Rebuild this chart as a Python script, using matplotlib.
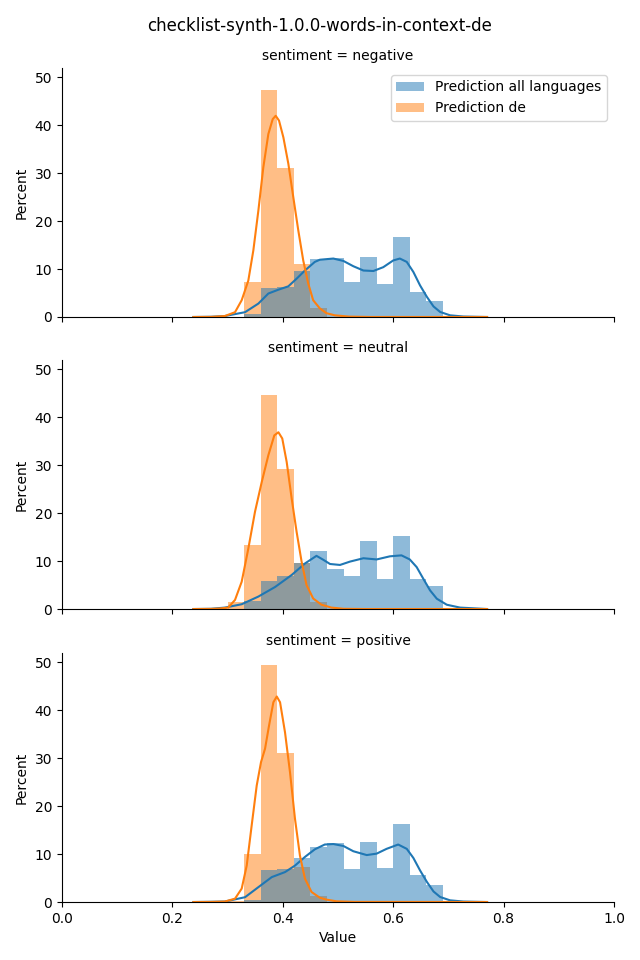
import numpy as np
import matplotlib.pyplot as plt

# histogram bins (shared by both series)
bin_edges = [0.30, 0.33, 0.36, 0.39, 0.42, 0.45, 0.48, 0.51, 0.54, 0.57, 0.60, 0.63, 0.66, 0.69]

panels = ["negative", "neutral", "positive"]

# percent per bin
all_neg = [0.0, 0.7, 6.0, 6.2, 9.7, 12.2, 12.4, 7.3, 12.6, 6.8, 16.7, 5.2, 3.3]
de_neg = [0.0, 7.3, 47.4, 31.2, 11.0, 1.8, 0.0, 0.0, 0.0, 0.0, 0.0, 0.0, 0.0]
all_neu = [0.0, 1.7, 5.8, 6.9, 9.7, 12.1, 8.3, 6.9, 14.2, 6.3, 15.2, 6.3, 4.8]
de_neu = [1.5, 13.3, 44.6, 29.2, 9.7, 1.5, 0.0, 0.0, 0.0, 0.0, 0.0, 0.0, 0.0]
all_pos = [0.0, 0.5, 6.6, 6.8, 9.2, 11.4, 12.4, 6.8, 12.6, 7.1, 16.2, 5.6, 3.5]
de_pos = [0.3, 10.1, 49.5, 31.2, 7.3, 1.2, 0.0, 0.0, 0.0, 0.0, 0.0, 0.0, 0.0]

# kde curves (x, y in percent units)
kde_all_neg_x = [0.238, 0.27, 0.295, 0.3315, 0.3557, 0.3738, 0.392, 0.410, 0.425, 0.440, 0.458, 0.467, 0.4915, 0.5097,
                 0.5277, 0.546, 0.564, 0.582, 0.600, 0.612, 0.6245, 0.6365, 0.6486, 0.661, 0.673, 0.685, 0.703, 0.727, 0.77]
kde_all_neg_y = [0.0, 0.05, 0.2, 1.0, 2.8, 4.9, 5.7, 6.4, 8.0, 9.7, 11.5, 11.95, 12.2, 11.7,
                 10.6, 9.7, 9.6, 10.4, 11.8, 12.2, 11.5, 9.4, 6.6, 4.2, 2.2, 1.05, 0.35, 0.1, 0.0]
kde_de_neg_x = [0.238, 0.27, 0.295, 0.3134, 0.3255, 0.3375, 0.3466, 0.3557, 0.3647, 0.3738, 0.3817, 0.3871, 0.3931,
                0.401, 0.410, 0.419, 0.428, 0.437, 0.446, 0.455, 0.467, 0.479, 0.494, 0.52, 0.56, 0.77]
kde_de_neg_y = [0.0, 0.02, 0.2, 1.0, 3.5, 7.6, 13.9, 22.2, 31.25, 38.2, 41.3, 42.0, 41.0,
                37.5, 32.0, 25.0, 18.1, 11.8, 7.0, 3.5, 1.8, 0.8, 0.35, 0.08, 0.0, 0.0]

kde_all_neu_x = [0.238, 0.27, 0.295, 0.3255, 0.3557, 0.386, 0.416, 0.440, 0.461, 0.473, 0.4855, 0.5036, 0.5217, 0.546,
                 0.570, 0.594, 0.615, 0.630, 0.6425, 0.6546, 0.6667, 0.679, 0.697, 0.721, 0.77]
kde_all_neu_y = [0.0, 0.05, 0.3, 1.0, 2.6, 4.6, 7.1, 9.5, 11.1, 10.3, 9.4, 9.2, 9.9, 10.6,
                 10.35, 11.0, 11.2, 10.35, 8.75, 6.3, 3.9, 2.15, 0.9, 0.3, 0.0]
kde_de_neu_x = [0.238, 0.27, 0.285, 0.301, 0.3134, 0.3255, 0.3375, 0.3496, 0.3618, 0.3738, 0.3846, 0.392, 0.399,
                0.407, 0.416, 0.425, 0.434, 0.443, 0.455, 0.470, 0.488, 0.51, 0.55, 0.77]
kde_de_neu_y = [0.0, 0.03, 0.1, 0.3, 1.9, 5.7, 12.6, 20.3, 26.5, 32.1, 36.25, 36.9, 35.6,
                30.7, 23.1, 16.1, 9.9, 5.0, 2.2, 0.9, 0.3, 0.05, 0.0, 0.0]

kde_all_pos_x = [0.238, 0.27, 0.295, 0.3315, 0.3557, 0.380, 0.404, 0.422, 0.440, 0.458, 0.476, 0.4915, 0.5097, 0.5277,
                 0.552, 0.570, 0.588, 0.609, 0.6245, 0.6365, 0.6486, 0.661, 0.673, 0.685, 0.703, 0.727, 0.77]
kde_all_pos_y = [0.0, 0.05, 0.1, 1.0, 3.1, 5.2, 6.25, 7.6, 9.4, 11.0, 12.0, 12.1, 11.7, 10.6,
                 9.8, 10.1, 11.1, 12.0, 11.1, 9.2, 6.6, 4.2, 2.2, 1.05, 0.35, 0.1, 0.0]
kde_de_pos_x = [0.238, 0.27, 0.295, 0.3134, 0.3255, 0.3346, 0.3436, 0.3527, 0.3605, 0.3678, 0.375, 0.3829, 0.389,
                0.395, 0.404, 0.413, 0.422, 0.431, 0.440, 0.452, 0.467, 0.479, 0.497, 0.53, 0.77]
kde_de_pos_y = [0.0, 0.02, 0.1, 0.7, 2.8, 7.6, 16.0, 24.3, 29.2, 32.0, 36.8, 41.7, 42.9,
                41.7, 35.4, 27.1, 17.4, 9.7, 4.9, 2.1, 0.9, 0.5, 0.15, 0.02, 0.0]

hist_all = [all_neg, all_neu, all_pos]
hist_de = [de_neg, de_neu, de_pos]
kde_all = [(kde_all_neg_x, kde_all_neg_y), (kde_all_neu_x, kde_all_neu_y), (kde_all_pos_x, kde_all_pos_y)]
kde_de = [(kde_de_neg_x, kde_de_neg_y), (kde_de_neu_x, kde_de_neu_y), (kde_de_pos_x, kde_de_pos_y)]

fig = plt.figure(figsize=(6.4, 9.6), dpi=100)
fig.suptitle("checklist-synth-1.0.0-words-in-context-de", fontsize=12, y=0.982)

edges = np.array(bin_edges)
lefts = edges[:-1]
widths = np.diff(edges)
bottoms = [0.6698, 0.3656, 0.0604]

axes = []
for i, name in enumerate(panels):
    ax = fig.add_axes([0.0969, bottoms[i], 0.8625, 0.2594])
    axes.append(ax)
    # orange first so the blue on top gives the grey overlap
    b_de = ax.bar(lefts, hist_de[i], width=widths, align="edge", color="C1", alpha=0.5,
                  linewidth=0, label="Prediction de")
    b_all = ax.bar(lefts, hist_all[i], width=widths, align="edge", color="C0", alpha=0.5,
                   linewidth=0, label="Prediction all languages")
    ax.plot(kde_all[i][0], kde_all[i][1], color="C0", lw=1.5)
    ax.plot(kde_de[i][0], kde_de[i][1], color="C1", lw=1.5)
    ax.set_xlim(0, 1)
    ax.set_ylim(0, 51.98)
    ax.set_yticks([0, 10, 20, 30, 40, 50])
    ax.set_title("sentiment = " + name, fontsize=10)
    ax.set_ylabel("Percent")
    ax.spines["top"].set_visible(False)
    ax.spines["right"].set_visible(False)
    if i < 2:
        ax.tick_params(labelbottom=False)
    else:
        ax.set_xlabel("Value")
    if i == 0:
        ax.legend(handles=[b_all, b_de], loc="upper right")

fig.savefig("out.png", dpi=100)
